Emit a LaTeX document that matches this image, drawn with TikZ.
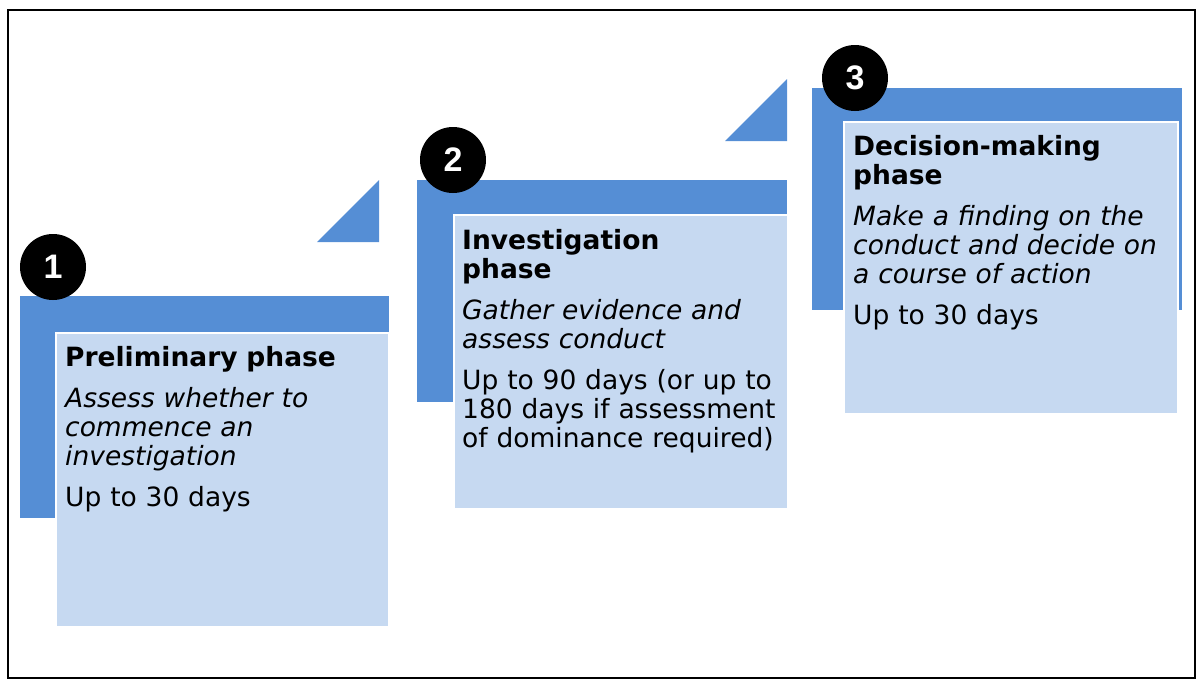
\documentclass[tikz,border=0pt]{standalone}
\usepackage{fontspec}
\setmainfont{DejaVu Sans}
\newfontfamily\digitfont{Liberation Sans}
\usetikzlibrary{positioning}
\definecolor{phasedark}{HTML}{558ED5}
\definecolor{phaselight}{HTML}{C6D9F1}

\begin{document}
\begin{tikzpicture}[x=1pt,y=-1pt,
darkbox/.style = {fill=phasedark},
lightbox/.style = {fill=phaselight, draw=white, line width=1.5pt},
corner/.style = {fill=phasedark},
numdot/.style = {circle, fill=black, text=white, minimum size=66pt,
                 inner sep=0pt, font=\digitfont\fontsize{34}{36}\selectfont\bfseries},
phasetext/.style = {anchor=north west, text width=340pt, inner sep=0pt,
                    align=left, font=\fontsize{26.5}{29}\selectfont},
]
\useasboundingbox (0,0) rectangle (1197,680);
\draw[line width=2pt] (8,10) rectangle (1195,678);
% phase 1
\fill[darkbox] (20,296) rectangle (389,518);
\draw[lightbox] (56,333) rectangle (389,627);
\fill[corner] (317,242) -- (379,180) -- (379,242) -- cycle;
\node (num1) [numdot] at (53,267) {1};
\node (txt1) [phasetext] at (65,346)
   {\textbf{Preliminary phase}\par\vspace{12pt}
    \textit{Assess whether to\\ commence an\\ investigation}\par\vspace{12pt}
    Up to 30 days};
% phase 2
\fill[darkbox] (417,180) rectangle (787,402);
\draw[lightbox] (454,215) rectangle (788,509);
\fill[corner] (725,141) -- (787,79) -- (787,141) -- cycle;
\node (num2) [numdot] at (453,160) {2};
\node (txt2) [phasetext] at (462,229)
   {\textbf{Investigation\\ phase}\par\vspace{12pt}
    \textit{Gather evidence and\\ assess conduct}\par\vspace{12pt}
    Up to 90 days (or up to\\ 180 days if assessment\\ of dominance required)};
% phase 3
\fill[darkbox] (812,88) rectangle (1182,310);
\draw[lightbox] (844,122) rectangle (1178,414);
\node (num3) [numdot] at (855,78) {3};
\node (txt3) [phasetext] at (853,135)
   {\textbf{Decision-making\\ phase}\par\vspace{12pt}
    \textit{Make a finding on the\\ conduct and decide on\\ a course of action}\par\vspace{12pt}
    Up to 30 days};
\end{tikzpicture}
\end{document}
